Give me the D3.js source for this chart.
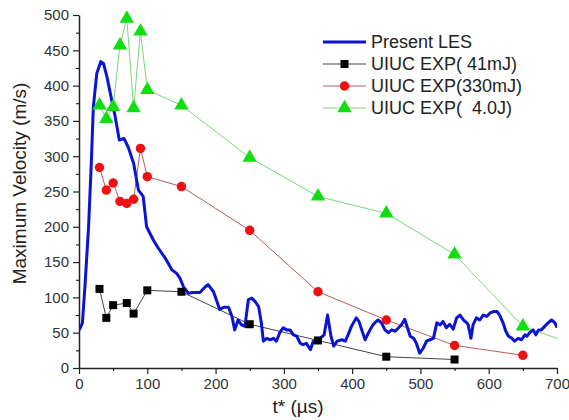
<!DOCTYPE html>
<html>
<head>
<meta charset="utf-8">
<script src="https://cdn.jsdelivr.net/npm/d3@7"></script>
<style>
  body { margin: 0; background: #fff; }
  svg { font-family: "Liberation Sans", Arial, sans-serif; }
</style>
</head>
<body>
<script>
// LES curve: [t (µs), max velocity (m/s)]
const lesData = [
  [0,54],[2,57],[5,64],[9,120],[14,200],[18,290],[21,370],[26,417],[32,434],[36,431],
  [41,412],[48,379],[53,356],[59,323],[66,325],[72,313],[80,290],[87,252],[94,243],[99,200],
  [109,181],[116,170],[126,156],[136,139],[143,134],[148,127],[153,115],[160,106],[167,107],[177,107],
  [185,115],[189,118],[197,108],[206,83],[212,86],[219,86],[224,73],[228,54],[233,68],[238,61],
  [243,59],[248,97],[253,99],[258,94],[263,87],[267,64],[270,38],[275,42],[280,40],[285,42],
  [289,38],[294,50],[299,57],[304,54],[309,54],[314,47],[319,45],[324,35],[328,33],[333,35],
  [339,26],[343,38],[348,38],[353,42],[359,47],[364,75],[369,45],[373,31],[378,38],[385,40],
  [390,38],[394,47],[399,59],[406,71],[410,66],[414,54],[419,40],[424,50],[429,59],[433,64],
  [438,68],[443,64],[448,54],[453,50],[458,54],[463,52],[468,57],[472,61],[477,69],[481,57],
  [485,45],[490,42],[494,35],[499,21],[504,28],[509,38],[514,40],[519,42],[524,64],[529,61],
  [533,66],[538,57],[543,62],[548,55],[553,71],[558,75],[563,68],[568,64],[570,61],[574,42],
  [577,61],[582,71],[587,68],[592,75],[597,73],[602,78],[607,80],[612,80],[616,75],[621,64],
  [625,52],[629,45],[634,42],[638,38],[643,42],[648,40],[653,47],[656,45],[660,50],[665,54],
  [669,47],[673,54],[677,54],[682,59],[687,64],[692,68],[697,64],[700,57]
];

// experiments
const exp41mJ = [[30,112],[40,71],[50,89],[70,92],[80,77],[100,110],[150,108],[250,62],[350,39],[450,16],[550,12]];
const exp330mJ = [[30,284],[40,252],[50,262],[60,236],[70,233],[80,239],[90,311],[100,271],[150,257],[250,195],[350,108],[450,68],[550,32],[650,18]];
const exp4J = [[30,372],[40,353],[50,370],[60,457],[70,495],[80,368],[90,477],[100,394],[150,372],[250,298],[350,243],[450,219],[550,161],[650,59],[750,25]];

const legendLabels = ["Present LES", "UIUC EXP( 41mJ)", "UIUC EXP(330mJ)", "UIUC EXP(  4.0J)"];
const xTicks = [0, 100, 200, 300, 400, 500, 600, 700];
const yTicks = [0, 50, 100, 150, 200, 250, 300, 350, 400, 450, 500];

const margin = { top: 15, right: 12, bottom: 52, left: 79 },
    width = 569 - margin.left - margin.right,
    height = 420 - margin.top - margin.bottom;

const svg = d3.select("body")
    .append("svg")
    .attr("width", 569)
    .attr("height", 420)
    .append("g")
    .attr("transform", "translate(" + margin.left + "," + margin.top + ")");

const x = d3.scaleLinear().domain([0, 700]).range([0, width]);
const y = d3.scaleLinear().domain([0, 500]).range([height, 0]);

svg.append("defs").append("clipPath").attr("id", "clip")
    .append("rect").attr("x", 0).attr("y", -10).attr("width", width).attr("height", height + 10);

// minor ticks first, then major axes on top
svg.append("g")
    .attr("transform", "translate(0," + height + ")")
    .call(d3.axisBottom(x).tickValues(d3.range(50, 700, 100)).tickSize(3).tickFormat(""))
    .call(g => g.select(".domain").remove());
svg.append("g")
    .call(d3.axisLeft(y).tickValues(d3.range(25, 500, 50)).tickSize(3).tickFormat(""))
    .call(g => g.select(".domain").remove());

const xAxis = svg.append("g")
    .attr("transform", "translate(0," + height + ")")
    .call(d3.axisBottom(x).tickValues(xTicks).tickSize(6).tickSizeOuter(0).tickPadding(4));
const yAxis = svg.append("g")
    .call(d3.axisLeft(y).tickValues(yTicks).tickSize(6).tickSizeOuter(0).tickPadding(4));

[xAxis, yAxis].forEach(a => {
    a.selectAll("text").style("font-size", "15px").attr("fill", "#333");
    a.selectAll("line").attr("stroke", "#222").attr("stroke-width", 1.2);
    a.select(".domain").attr("stroke", "#222").attr("stroke-width", 1.5);
});

// axis labels
svg.append("text")
    .attr("x", width / 2 - 20)
    .attr("y", height + 45)
    .attr("text-anchor", "middle")
    .style("font-size", "19px")
    .attr("fill", "#222")
    .text("t* (µs)");

svg.append("text")
    .attr("transform", "rotate(-90)")
    .attr("x", -height / 2 + 8)
    .attr("y", -53)
    .attr("text-anchor", "middle")
    .style("font-size", "19px")
    .attr("fill", "#222")
    .text("Maximum Velocity (m/s)");

const line = d3.line().x(d => x(d[0])).y(d => y(d[1]));
const plot = svg.append("g").attr("clip-path", "url(#clip)");

const series = [
    { data: exp4J, line: "#7ad67a", fill: "#11dd11", shape: d3.symbolTriangle, size: 90 },
    { data: exp330mJ, line: "#b85a5a", fill: "#ee1111", shape: d3.symbolCircle, size: 70 },
    { data: exp41mJ, line: "#444", fill: "#000", shape: d3.symbolSquare, size: 64 }
];

series.forEach(s => {
    plot.append("path")
        .datum(s.data)
        .attr("fill", "none")
        .attr("stroke", s.line)
        .attr("stroke-width", 1)
        .attr("d", line);
});

plot.append("path")
    .datum(lesData)
    .attr("fill", "none")
    .attr("stroke", "#0a14d2")
    .attr("stroke-width", 3)
    .attr("stroke-linejoin", "round")
    .attr("d", line);

series.forEach(s => {
    plot.selectAll(null)
        .data(s.data)
        .enter()
        .append("path")
        .attr("transform", d => "translate(" + x(d[0]) + "," + y(d[1]) + ")")
        .attr("d", d3.symbol().type(s.shape).size(s.size))
        .attr("fill", s.fill);
});

// legend
const legend = svg.append("g").attr("transform", "translate(" + (323 - margin.left) + "," + (42 - margin.top) + ")");
const legendStyle = [
    { stroke: "#0a14d2", w: 3, shape: null },
    { stroke: "#444", w: 1, shape: d3.symbolSquare, fill: "#000", size: 64 },
    { stroke: "#b85a5a", w: 1, shape: d3.symbolCircle, fill: "#ee1111", size: 70 },
    { stroke: "#7ad67a", w: 1, shape: d3.symbolTriangle, fill: "#11dd11", size: 90 }
];
legendLabels.forEach((label, i) => {
    const row = legend.append("g").attr("transform", "translate(0," + i * 22 + ")");
    const st = legendStyle[i];
    row.append("line").attr("x1", 0).attr("x2", 43).attr("y1", 0).attr("y2", 0)
        .attr("stroke", st.stroke).attr("stroke-width", st.w);
    if (st.shape) {
        row.append("path").attr("transform", "translate(21.5,0)")
            .attr("d", d3.symbol().type(st.shape).size(st.size)).attr("fill", st.fill);
    }
    row.append("text").attr("x", 48).attr("y", 0).attr("dy", "0.35em")
        .style("font-size", "18px").attr("fill", "#222")
        .style("white-space", "pre").attr("xml:space", "preserve")
        .text(label);
});
</script>
</body>
</html>
